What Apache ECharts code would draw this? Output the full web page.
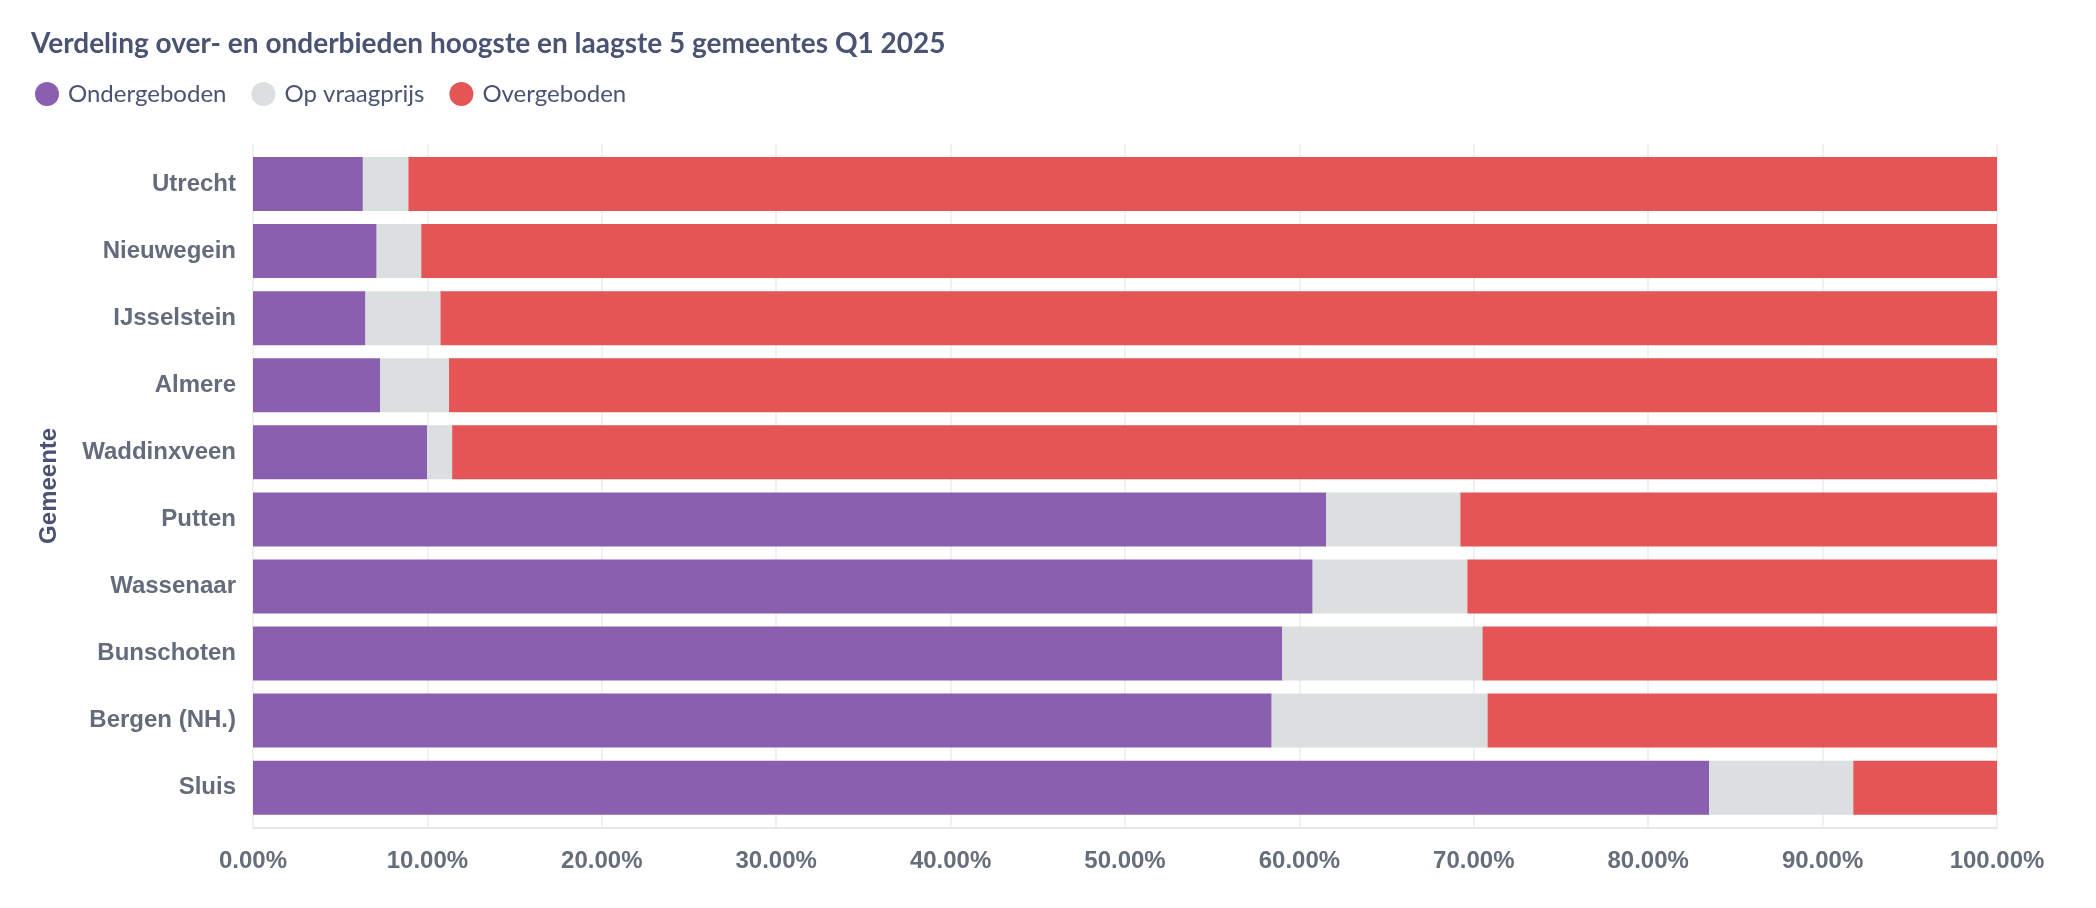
<!DOCTYPE html>
<html lang="nl">
<head>
    <meta charset="UTF-8">
    <title>over- en onderbieden</title>
</head>
<style>
    * {
        margin: 0;
        padding: 0;
    }

    html, body {
        height: 100%;
        background: #fff;
    }

    .chart {
        width: 2096px;
        height: 908px;
    }
</style>
<script src="https://cdn.jsdelivr.net/npm/echarts@6/dist/echarts.min.js"></script>
<body>
<div class="chart" id="chart"></div>
</body>
<script>
  const gemeentes = ['Utrecht', 'Nieuwegein', 'IJsselstein', 'Almere', 'Waddinxveen',
    'Putten', 'Wassenaar', 'Bunschoten', 'Bergen (NH.)', 'Sluis']

  // percentages per gemeente
  const ondergeboden = [6.30, 7.09, 6.45, 7.29, 9.98, 61.54, 60.76, 59.02, 58.41, 83.50]
  const opVraagprijs = [2.61, 2.56, 4.30, 3.95, 1.44, 7.69, 8.87, 11.48, 12.38, 8.26]
  const overgeboden = [91.09, 90.35, 89.25, 88.76, 88.58, 30.77, 30.37, 29.50, 29.21, 8.24]

  const xTicks = [0, 100, 10] // min, max, interval

  const labelFont = 'Liberation Sans, Arial, Helvetica, sans-serif'
  const titleFont = 'Lato, sans-serif'

  const chart = echarts.init(document.getElementById('chart'))

  function barSeries(name, data, color) {
    return {
      name: name,
      type: 'bar',
      stack: 'total',
      xAxisIndex: 0,
      yAxisIndex: 0,
      barWidth: 54,
      itemStyle: { color: color },
      emphasis: { disabled: true },
      data: data
    }
  }

  chart.setOption({
    animation: false,
    title: {
      text: 'Verdeling over- en onderbieden hoogste en laagste 5 gemeentes Q1 2025',
      left: 31,
      top: 30,
      padding: 0,
      textStyle: {
        fontFamily: titleFont,
        fontWeight: 'bold',
        fontSize: 28,
        color: '#4a5472'
      }
    },
    legend: {
      left: 35,
      top: 82,
      padding: 0,
      icon: 'circle',
      itemWidth: 24,
      itemHeight: 24,
      itemGap: 25,
      textStyle: {
        fontFamily: titleFont,
        fontSize: 24,
        color: '#4a5472',
        padding: [0, 0, 0, 4]
      },
      data: ['Ondergeboden', 'Op vraagprijs', 'Overgeboden']
    },
    grid: [
      // bars
      { left: 253, right: 99, top: 150.5, height: 670.7 },
      // grid lines and x labels
      { left: 253, right: 99, top: 144, height: 684 }
    ],
    xAxis: [
      {
        gridIndex: 0,
        type: 'value',
        min: xTicks[0],
        max: xTicks[1],
        show: false
      },
      {
        gridIndex: 1,
        type: 'value',
        min: xTicks[0],
        max: xTicks[1],
        interval: xTicks[2],
        axisLine: { show: true, lineStyle: { color: '#e8e8e8', width: 2 } },
        axisTick: { show: false },
        splitLine: { show: true, lineStyle: { color: '#ececec', width: 1.5 } },
        axisLabel: {
          margin: 21,
          fontFamily: labelFont,
          fontWeight: 'bold',
          fontSize: 24,
          color: '#666d7b',
          formatter: v => v.toFixed(2) + '%'
        }
      }
    ],
    yAxis: [
      {
        gridIndex: 0,
        type: 'category',
        inverse: true,
        data: gemeentes,
        axisLine: { show: false },
        axisTick: { show: false },
        axisLabel: {
          margin: 17,
          fontFamily: labelFont,
          fontWeight: 'bold',
          fontSize: 24,
          color: '#646b7b'
        },
        name: 'Gemeente',
        nameLocation: 'middle',
        nameRotate: 90,
        nameGap: 192,
        nameTextStyle: {
          fontFamily: labelFont,
          fontWeight: 'bold',
          fontSize: 24,
          color: '#4a5472'
        }
      },
      {
        gridIndex: 1,
        type: 'value',
        show: false
      }
    ],
    series: [
      barSeries('Ondergeboden', ondergeboden, '#8b5faf'),
      barSeries('Op vraagprijs', opVraagprijs, '#dcdfe0'),
      barSeries('Overgeboden', overgeboden, '#e55555')
    ]
  })
</script>
</html>
